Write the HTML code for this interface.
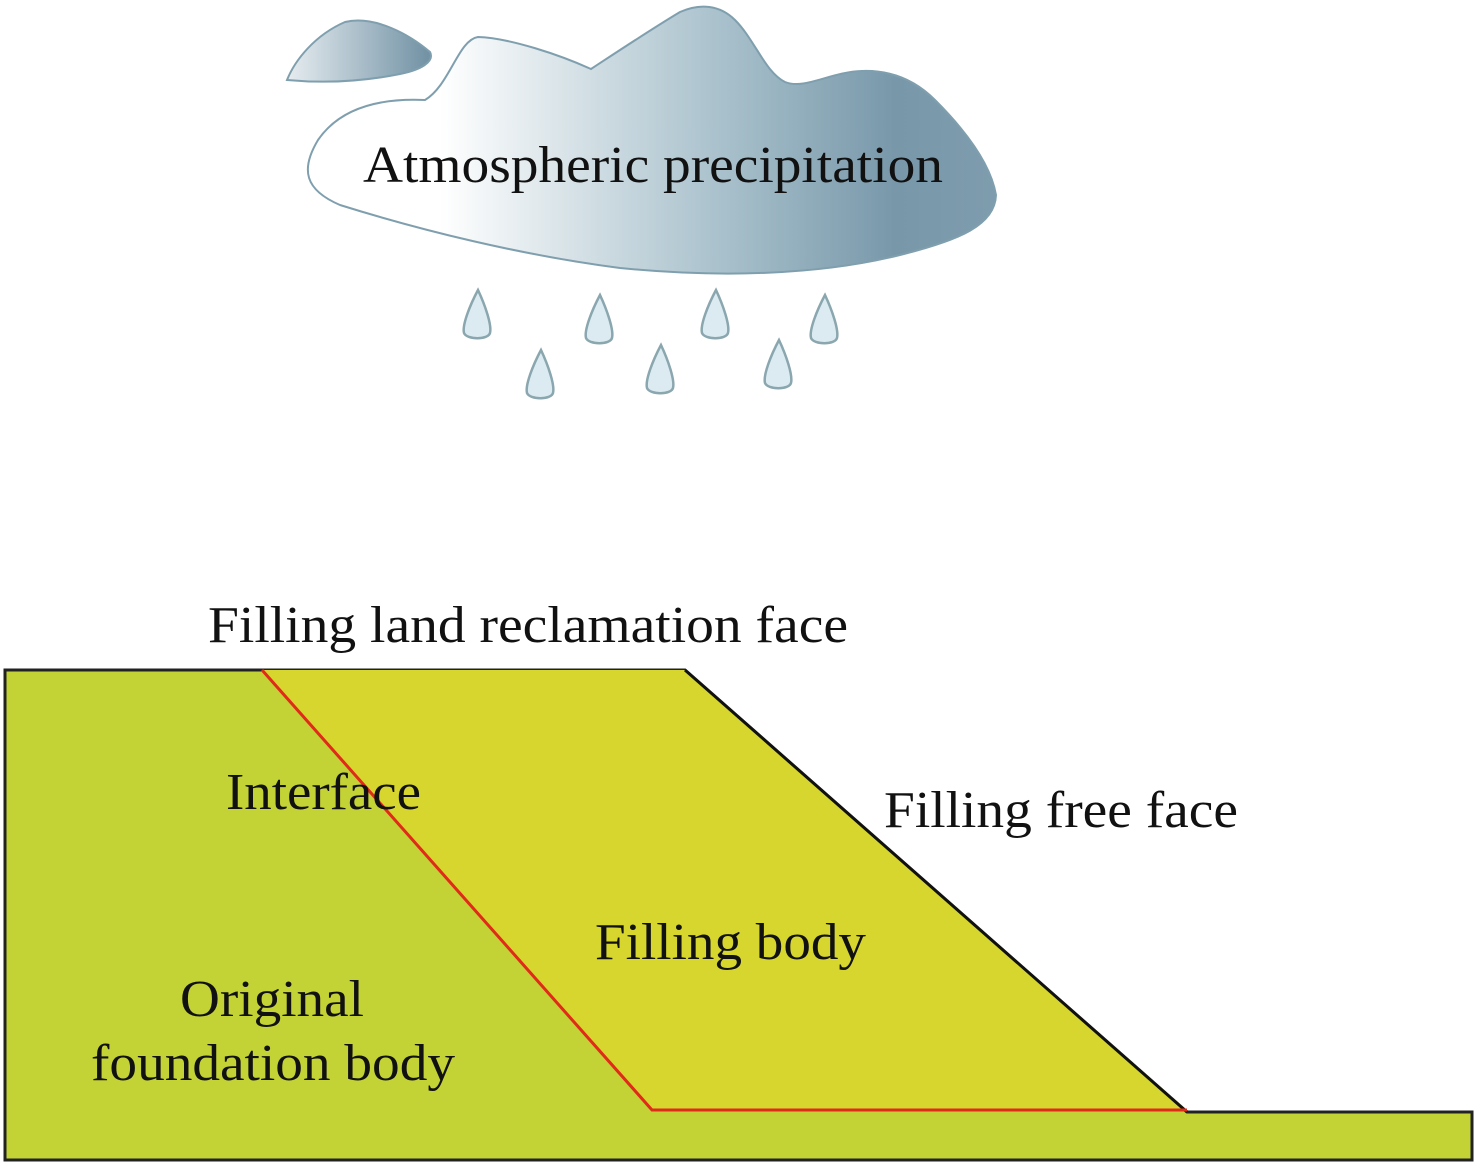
<!DOCTYPE html>
<html><head><style>body{margin:0;background:#fff}svg{display:block}</style></head><body>
<svg width="1476" height="1165" viewBox="0 0 1476 1165" xmlns="http://www.w3.org/2000/svg">
<defs>
<linearGradient id="g" x1="300" y1="0" x2="1000" y2="0" gradientUnits="userSpaceOnUse">
<stop offset="0.2" stop-color="#ffffff"/><stop offset="0.6" stop-color="#a9c1cc"/><stop offset="0.85" stop-color="#7898aa"/><stop offset="1" stop-color="#7e9cad"/></linearGradient>
<linearGradient id="g2" x1="285" y1="0" x2="432" y2="0" gradientUnits="userSpaceOnUse">
<stop offset="0" stop-color="#e8eef1"/><stop offset="1" stop-color="#6f90a3"/></linearGradient>
</defs>
<path d="M287,80 C295,60 315,35 345,22 C375,15 410,35 430,52 C435,62 420,70 400,74 C370,80 330,84 287,80 Z" fill="url(#g2)" stroke="#7f9fae" stroke-width="2"/>
<path d="M425,100 C380,98 340,108 318,140 C300,170 305,190 340,205 C420,230 520,255 620,268 C720,278 820,275 900,255 C960,240 995,225 996,195 C990,160 960,125 935,100 C915,80 890,70 862,71 C830,72 805,90 785,82 C765,72 755,40 735,20 C720,5 700,3 680,12 C650,30 620,50 591,69 C560,55 510,38 478,37 C458,40 450,85 425,100 Z" fill="url(#g)" stroke="#7f9fae" stroke-width="2"/>
<text x="363" y="182" font-family="Liberation Serif, serif" font-size="52" fill="#111" textLength="580" lengthAdjust="spacingAndGlyphs">Atmospheric precipitation</text>
<g fill="#dcebf2" stroke="#8aa6ae" stroke-width="2.5">
<path d="M478,290 C470,305 462,325 464,333 C467,340 488,340 490,333 C492,325 485,305 478,290 Z"/>
<path d="M600,295 C592,310 584,330 586,338 C589,345 610,345 612,338 C614,330 607,310 600,295 Z"/>
<path d="M716,290 C708,305 700,325 702,333 C705,340 726,340 728,333 C730,325 723,305 716,290 Z"/>
<path d="M825,295 C817,310 809,330 811,338 C814,345 835,345 837,338 C839,330 832,310 825,295 Z"/>
<path d="M541,350 C533,365 525,385 527,393 C530,400 551,400 553,393 C555,385 548,365 541,350 Z"/>
<path d="M661,345 C653,360 645,380 647,388 C650,395 671,395 673,388 C675,380 668,360 661,345 Z"/>
<path d="M779,340 C771,355 763,375 765,383 C768,390 789,390 791,383 C793,375 786,355 779,340 Z"/>
</g>
<path d="M5,670 L685,670 L1187,1112 L1472,1112 L1472,1160 L5,1160 Z" fill="#c3d235" stroke="#222" stroke-width="3"/>
<path d="M262,670 L685,670 L1187,1110 L652,1110 Z" fill="#d6d62e"/>
<path d="M685,670 L1187,1112" stroke="#111" stroke-width="3" fill="none"/>
<path d="M262,670 L652,1110 L1187,1110" stroke="#e02a1a" stroke-width="3" fill="none"/>
<g font-family="Liberation Serif, serif" font-size="52" fill="#111">
<text x="208" y="642" textLength="640" lengthAdjust="spacingAndGlyphs">Filling land reclamation face</text>
<text x="226" y="809" textLength="195" lengthAdjust="spacingAndGlyphs">Interface</text>
<text x="884" y="827" textLength="354" lengthAdjust="spacingAndGlyphs">Filling free face</text>
<text x="595" y="959" textLength="271" lengthAdjust="spacingAndGlyphs">Filling body</text>
<text x="180" y="1016" textLength="184" lengthAdjust="spacingAndGlyphs">Original</text>
<text x="91" y="1080" textLength="364" lengthAdjust="spacingAndGlyphs">foundation body</text>
</g>
</svg>
</body></html>
